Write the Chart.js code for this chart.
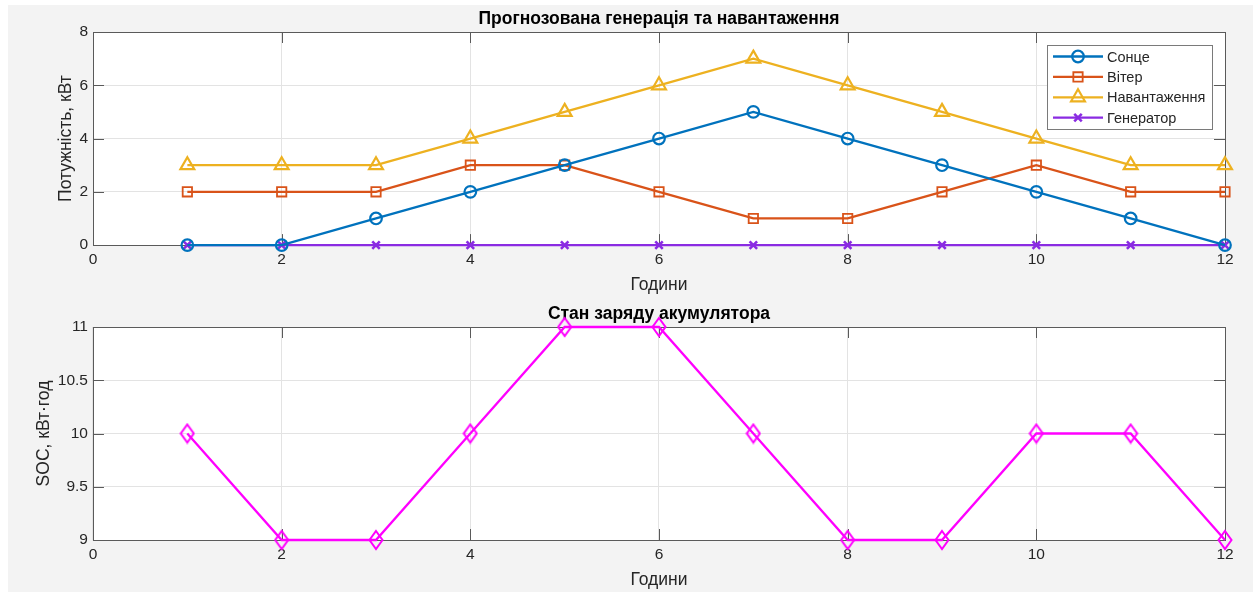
<!DOCTYPE html>
<html><head><meta charset="utf-8">
<script src="https://cdn.jsdelivr.net/npm/chart.js@4/dist/chart.umd.min.js"></script>
<style>
html,body{margin:0;padding:0;background:#fff;width:1253px;height:594px;overflow:hidden;}
#bg{position:absolute;left:8px;top:5px;width:1245px;height:587px;background:#f3f3f3;}
.w{position:absolute;left:0;width:1253px;}
#w1{top:0;height:298px;}
#w2{top:293px;height:300px;}
</style></head><body>
<div id="bg"></div>
<div class="w" id="w1"><canvas id="c1"></canvas></div>
<div class="w" id="w2"><canvas id="c2"></canvas></div>
<script>
// ---- data ----
const hours = [1,2,3,4,5,6,7,8,9,10,11,12];
const solar = [0,0,1,2,3,4,5,4,3,2,1,0];
const wind = [2,2,2,3,3,2,1,1,2,3,2,2];
const load = [3,3,3,4,5,6,7,6,5,4,3,3];
const generator = [0,0,0,0,0,0,0,0,0,0,0,0];
const soc = [10,9,9,10,11,11,10,9,9,10,10,9];
const xTickValues = [0,2,4,6,8,10,12];
const yTicksPower = [0,2,4,6,8];
const yTicksSoc = [9,9.5,10,10.5,11];
const seriesNames = ['Сонце','Вітер','Навантаження','Генератор'];
const title1 = 'Прогнозована генерація та навантаження';
const title2 = 'Стан заряду акумулятора';
const xTitle = 'Години';
const yTitle1 = 'Потужність, кВт';
const yTitle2 = 'SOC, кВт·год';

const FONT = "'Liberation Sans', Arial, sans-serif";
const TXT = '#262626';
const GRID = '#e3e3e3';
const AXC = '#5a5a5a';
Chart.defaults.font.family = FONT;
Chart.defaults.color = TXT;

function pts(ys){ return hours.map((h,i)=>({x:h,y:ys[i]})); }

// diamond marker image
function diamondImg(color){
  const c = document.createElement('canvas');
  c.width = 16; c.height = 22;
  const g = c.getContext('2d');
  g.strokeStyle = color; g.lineWidth = 2;
  g.beginPath();
  g.moveTo(8,2); g.lineTo(14.5,11); g.lineTo(8,20); g.lineTo(1.5,11); g.closePath();
  g.stroke();
  return c;
}

function drawMarker(ctx, style, r, x, y, color, bw){
  ctx.save();
  ctx.strokeStyle = color; ctx.lineWidth = bw;
  ctx.beginPath();
  if (style === 'circle') { ctx.arc(x,y,r,0,Math.PI*2); }
  else if (style === 'rect') { const s = Math.SQRT1_2*r; ctx.rect(x-s,y-s,2*s,2*s); }
  else if (style === 'triangle') {
    let a = 0;
    ctx.moveTo(x+Math.sin(a)*r, y-Math.cos(a)*r); a += 2*Math.PI/3;
    ctx.lineTo(x+Math.sin(a)*r, y-Math.cos(a)*r); a += 2*Math.PI/3;
    ctx.lineTo(x+Math.sin(a)*r, y-Math.cos(a)*r); ctx.closePath();
  } else if (style === 'crossRot') {
    const s = Math.SQRT1_2*r;
    ctx.moveTo(x-s,y-s); ctx.lineTo(x+s,y+s); ctx.moveTo(x+s,y-s); ctx.lineTo(x-s,y+s);
  }
  ctx.stroke();
  ctx.restore();
}

const frame = {
  id: 'frame',
  beforeDraw(chart){
    const a = chart.chartArea, ctx = chart.ctx;
    ctx.save(); ctx.fillStyle = '#fff';
    ctx.fillRect(a.left, a.top, a.right-a.left, a.bottom-a.top);
    ctx.restore();
  },
  beforeDatasetsDraw(chart){
    const a = chart.chartArea, ctx = chart.ctx;
    const xs = chart.scales.x, ys = chart.scales.y;
    const L = 11;
    ctx.save();
    ctx.strokeStyle = AXC; ctx.lineWidth = 1;
    ctx.beginPath();
    xs.ticks.forEach(t=>{
      const px = Math.round(xs.getPixelForValue(t.value))+0.5;
      ctx.moveTo(px, a.bottom); ctx.lineTo(px, a.bottom-L);
      ctx.moveTo(px, a.top); ctx.lineTo(px, a.top+L);
    });
    ys.ticks.forEach(t=>{
      const py = Math.round(ys.getPixelForValue(t.value))+0.5;
      ctx.moveTo(a.left, py); ctx.lineTo(a.left+L, py);
      ctx.moveTo(a.right, py); ctx.lineTo(a.right-L, py);
    });
    ctx.stroke();
    ctx.strokeRect(Math.round(a.left)+0.5, Math.round(a.top)+0.5, Math.round(a.right-a.left), Math.round(a.bottom-a.top));
    ctx.restore();
  }
};

const legendBox = {
  id: 'legendBox',
  afterDatasetsDraw(chart){
    const a = chart.chartArea, ctx = chart.ctx;
    const w = 165, h = 84;
    const left = a.right - 13 - w, top = a.top + 13;
    ctx.save();
    ctx.fillStyle = '#fff'; ctx.fillRect(left, top, w, h);
    ctx.strokeStyle = '#7a7a7a'; ctx.lineWidth = 1;
    ctx.strokeRect(Math.round(left)+0.5, Math.round(top)+0.5, w, h);
    chart.data.datasets.forEach((ds,i)=>{
      const y = top + 11.5 + i*20.4;
      ctx.strokeStyle = ds.borderColor; ctx.lineWidth = ds.borderWidth;
      ctx.beginPath(); ctx.moveTo(left+6, y); ctx.lineTo(left+56, y); ctx.stroke();
      drawMarker(ctx, ds.pointStyle, ds.pointRadius, left+31, y, ds.borderColor, ds.pointBorderWidth);
      ctx.fillStyle = TXT; ctx.font = '14.5px ' + FONT; ctx.textBaseline = 'middle'; ctx.textAlign = 'left';
      ctx.fillText(ds.label, left+60, y+1);
    });
    ctx.restore();
  }
};

function setTicks(arr){ return function(scale){ scale.ticks = arr.map(v=>({value:v})); }; }

function makeScales(yArr, yTitleText, yMin, yMax, yTitlePad){
  return {
    x: {
      type:'linear', min:0, max:12,
      afterBuildTicks: setTicks(xTickValues),
      grid:{color:GRID, drawTicks:false},
      border:{display:false},
      ticks:{font:{size:15.5}, color:TXT, padding:5, maxRotation:0, callback:v=>String(v)},
      title:{display:true, text:xTitle, font:{size:17.5}, color:TXT, padding:{top:1.3,bottom:1}}
    },
    y: {
      type:'linear', min:yMin, max:yMax,
      afterBuildTicks: setTicks(yArr),
      grid:{color:GRID, drawTicks:false},
      border:{display:false},
      ticks:{font:{size:15.5}, color:TXT, padding:5, callback:v=>String(v)},
      title:{display:true, text:yTitleText, font:{size:17.5}, color:TXT, padding:yTitlePad}
    }
  };
}

function ds(label, data, color, style, r, bw){
  return {label, data:pts(data), borderColor:color, backgroundColor:color, borderWidth:2.3,
    pointStyle:style, pointRadius:r, pointHoverRadius:r, pointBorderWidth:bw,
    pointBackgroundColor:'rgba(0,0,0,0)', pointBorderColor:color, clip:false, tension:0};
}

new Chart(document.getElementById('c1'), {
  type:'line',
  data:{datasets:[
    ds(seriesNames[0], solar, '#0072BD', 'circle', 5.8, 2.2),
    ds(seriesNames[1], wind, '#D95319', 'rect', 6.6, 1.8),
    ds(seriesNames[2], load, '#EDB120', 'triangle', 8, 2.2),
    ds(seriesNames[3], generator, '#8A2BE2', 'crossRot', 5.3, 2.6)
  ]},
  options:{
    responsive:true, maintainAspectRatio:false, animation:false,
    layout:{padding:{left:52, right:28, top:0, bottom:1}},
    plugins:{
      legend:{display:false}, tooltip:{enabled:false},
      title:{display:true, fullSize:false, text:title1, color:'#000', font:{size:17.5, weight:'bold'}, padding:{top:8.5,bottom:2.5}}
    },
    scales: makeScales(yTicksPower, yTitle1, 0, 8, {top:4, bottom:-2.6})
  },
  plugins:[frame, legendBox]
});

const socDs = ds('SOC', soc, '#FF00FF', diamondImg('#FF00FF'), 9, 2);
new Chart(document.getElementById('c2'), {
  type:'line',
  data:{datasets:[socDs]},
  options:{
    responsive:true, maintainAspectRatio:false, animation:false,
    layout:{padding:{left:29.5, right:28, top:0, bottom:1.1}},
    plugins:{
      legend:{display:false}, tooltip:{enabled:false},
      title:{display:true, fullSize:false, text:title2, color:'#000', font:{size:17.5, weight:'bold'}, padding:{top:10.5,bottom:2.5}}
    },
    scales: makeScales(yTicksSoc, yTitle2, 9, 11, {top:4, bottom:-1.7})
  },
  plugins:[frame]
});
</script>
</body></html>
